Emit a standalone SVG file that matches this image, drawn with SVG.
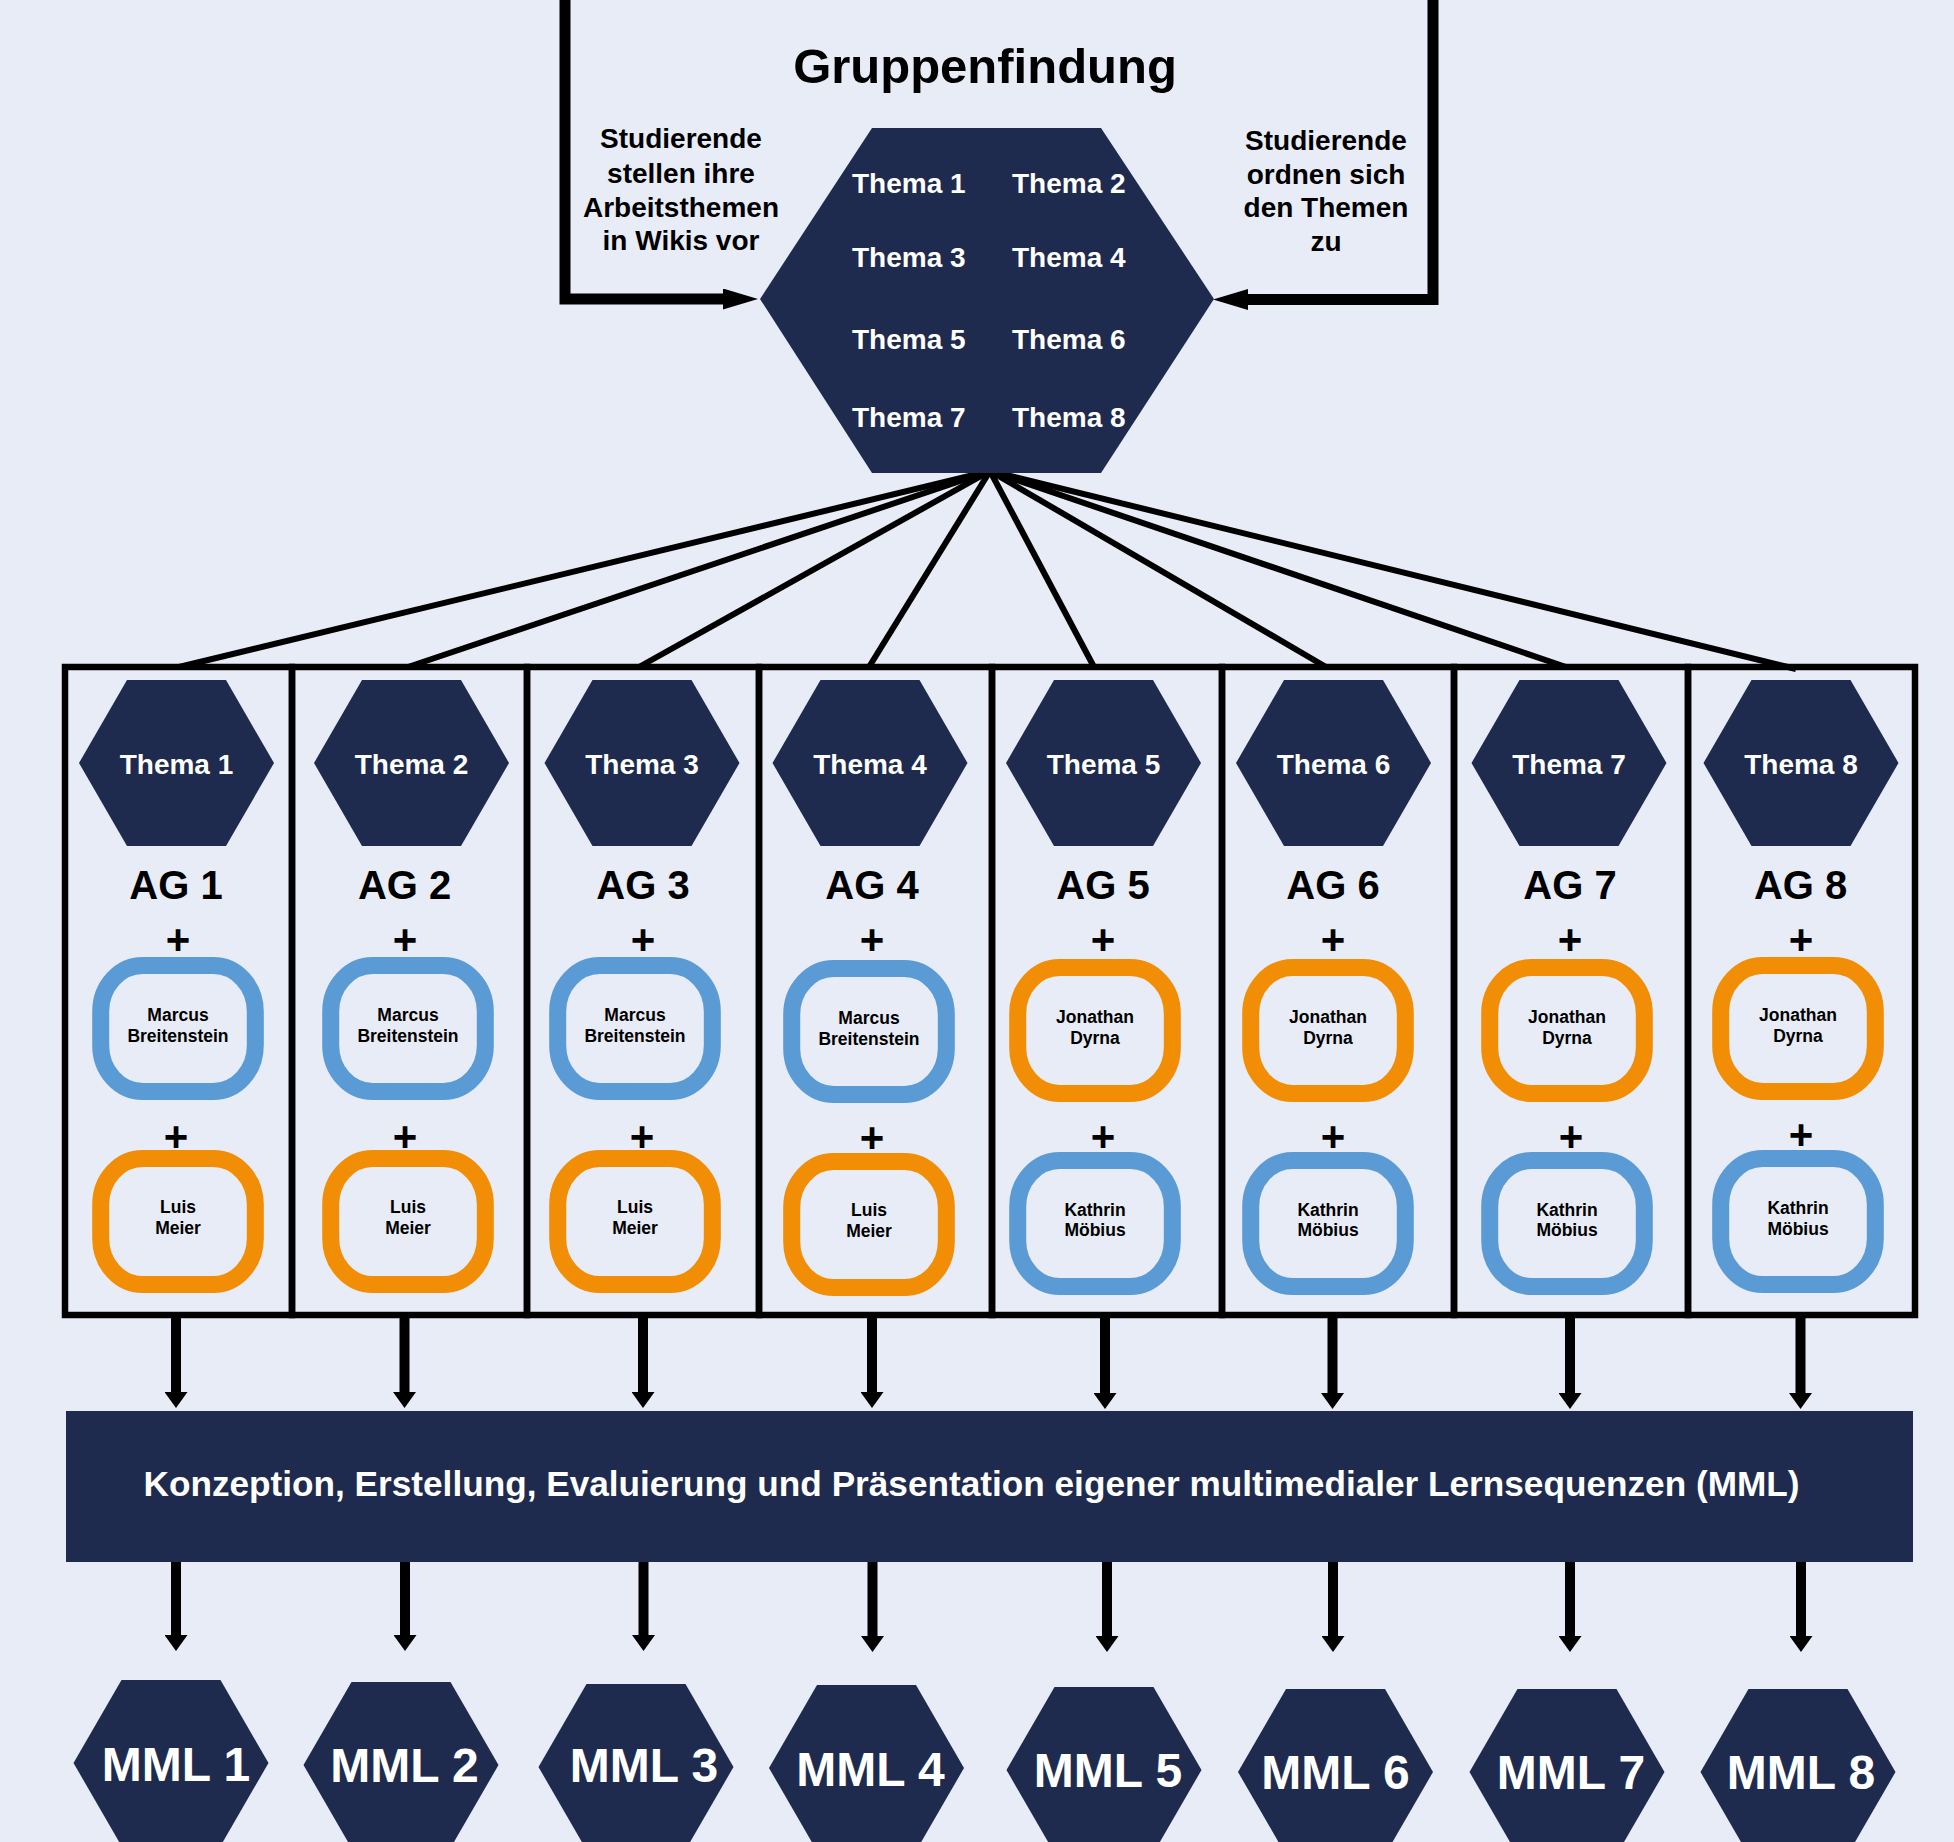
<svg xmlns="http://www.w3.org/2000/svg" xmlns:xlink="http://www.w3.org/1999/xlink" width="1954" height="1842" viewBox="0 0 1954 1842">
<style>
.navy{fill:#1E2B4F}
.f{font-family:"Liberation Sans",Arial,sans-serif;font-weight:bold}
.w{fill:#FFFFFF}
.k{fill:#000000}
.mid{text-anchor:middle}
.col{fill:none;stroke:#000;stroke-width:6.5}
.pb{fill:#E8ECF6;stroke:#5B9BD5;stroke-width:17}
.po{fill:#E8ECF6;stroke:#F18E06;stroke-width:17}
.thema{font-size:28px}
.ag{font-size:40px}
.plus{font-size:42px}
.nm{font-size:17.5px}
.mml{font-size:48px}
.side{font-size:28px}
.fan{stroke:#000;stroke-width:6;fill:none}
.dn{stroke:#000;stroke-width:10;fill:none;marker-end:url(#ad)}
.fr{stroke:#000;stroke-width:11;fill:none;marker-end:url(#ah)}
</style>
<defs>
<polygon id="hex" points="-49.5,-83 49.5,-83 97.5,0 49.5,83 -49.5,83 -97.5,0"/>
<marker id="ad" markerUnits="userSpaceOnUse" viewBox="0 0 16 23" markerWidth="16" markerHeight="23" refX="1" refY="11.5" orient="auto"><path d="M0,0 L16,11.5 L0,23 z" fill="#000"/></marker>
<marker id="ah" markerUnits="userSpaceOnUse" viewBox="0 0 35 21" markerWidth="35" markerHeight="21" refX="1" refY="10.5" orient="auto"><path d="M0,0 L35,10.5 L0,21 z" fill="#000"/></marker>
</defs>
<rect x="0" y="0" width="1954" height="1842" fill="#E8ECF6"/>

<g id="connectors">
<path class="fr" d="M565,-10 V299 H724"/>
<path class="fr" d="M1433,-10 V299.5 H1247"/>
<line class="fan" x1="990" y1="471" x2="179" y2="667"/>
<line class="fan" x1="990" y1="471" x2="408" y2="667"/>
<line class="fan" x1="990" y1="471" x2="639" y2="667"/>
<line class="fan" x1="990" y1="471" x2="869" y2="667"/>
<line class="fan" x1="990" y1="471" x2="1094" y2="667"/>
<line class="fan" x1="990" y1="471" x2="1326" y2="667"/>
<line class="fan" x1="990" y1="471" x2="1566" y2="667"/>
<line class="fan" x1="990" y1="471" x2="1796" y2="669"/>
<line class="dn" x1="176" y1="1318" x2="176" y2="1393"/>
<line class="dn" x1="404.5" y1="1318" x2="404.5" y2="1393"/>
<line class="dn" x1="643" y1="1318" x2="643" y2="1393"/>
<line class="dn" x1="872" y1="1318" x2="872" y2="1393"/>
<line class="dn" x1="1105" y1="1318" x2="1105" y2="1394"/>
<line class="dn" x1="1332.5" y1="1318" x2="1332.5" y2="1394"/>
<line class="dn" x1="1570" y1="1318" x2="1570" y2="1394"/>
<line class="dn" x1="1800.5" y1="1318" x2="1800.5" y2="1394"/>
<line class="dn" x1="176" y1="1560" x2="176" y2="1636"/>
<line class="dn" x1="405" y1="1560" x2="405" y2="1636"/>
<line class="dn" x1="643.5" y1="1560" x2="643.5" y2="1636"/>
<line class="dn" x1="872.5" y1="1560" x2="872.5" y2="1637"/>
<line class="dn" x1="1107" y1="1560" x2="1107" y2="1637"/>
<line class="dn" x1="1333" y1="1560" x2="1333" y2="1637"/>
<line class="dn" x1="1570" y1="1560" x2="1570" y2="1637"/>
<line class="dn" x1="1801" y1="1560" x2="1801" y2="1637"/>
</g>

<g id="gruppenfindung">
<text class="f k mid" x="985" y="83" font-size="49">Gruppenfindung</text>
<polygon class="navy" points="872,128 1101,128 1214,299 1101,473 872,473 760,299"/>
<g class="f w thema">
<text x="852" y="193">Thema 1</text><text x="1012" y="193">Thema 2</text>
<text x="852" y="267">Thema 3</text><text x="1012" y="267">Thema 4</text>
<text x="852" y="349">Thema 5</text><text x="1012" y="349">Thema 6</text>
<text x="852" y="427">Thema 7</text><text x="1012" y="427">Thema 8</text>
</g>
</g>

<g id="label-left" class="f k mid side">
<text x="681" y="148">Studierende</text>
<text x="681" y="183">stellen ihre</text>
<text x="681" y="217">Arbeitsthemen</text>
<text x="681" y="250">in Wikis vor</text>
</g>
<g id="label-right" class="f k mid side">
<text x="1326" y="150">Studierende</text>
<text x="1326" y="184">ordnen sich</text>
<text x="1326" y="217">den Themen</text>
<text x="1326" y="251">zu</text>
</g>

<g id="ag1">
<rect class="col" x="65" y="667" width="227" height="648"/>
<use href="#hex" x="176.5" y="763" class="navy"/>
<text class="f w mid thema" x="176.5" y="774">Thema 1</text>
<text class="f k mid ag" x="176" y="899">AG 1</text>
<text class="f k mid plus" x="178" y="954">+</text>
<rect class="pb" x="100.7" y="965.5" width="154.6" height="126" rx="42" ry="46"/>
<text class="f k mid nm" x="178" y="1021">Marcus</text><text class="f k mid nm" x="178" y="1041.5">Breitenstein</text>
<text class="f k mid plus" x="176" y="1151">+</text>
<rect class="po" x="100.7" y="1158.5" width="154.6" height="126" rx="42" ry="46"/>
<text class="f k mid nm" x="178" y="1213">Luis</text><text class="f k mid nm" x="178" y="1234">Meier</text>
</g>

<g id="ag2">
<rect class="col" x="292" y="667" width="235" height="648"/>
<use href="#hex" x="411.5" y="763" class="navy"/>
<text class="f w mid thema" x="411.5" y="774">Thema 2</text>
<text class="f k mid ag" x="404.6" y="899">AG 2</text>
<text class="f k mid plus" x="405" y="954">+</text>
<rect class="pb" x="330.7" y="965.5" width="154.6" height="126" rx="42" ry="46"/>
<text class="f k mid nm" x="408" y="1021">Marcus</text><text class="f k mid nm" x="408" y="1041.5">Breitenstein</text>
<text class="f k mid plus" x="405" y="1151">+</text>
<rect class="po" x="330.7" y="1158.5" width="154.6" height="126" rx="42" ry="46"/>
<text class="f k mid nm" x="408" y="1213">Luis</text><text class="f k mid nm" x="408" y="1234">Meier</text>
</g>

<g id="ag3">
<rect class="col" x="527" y="667" width="232" height="648"/>
<use href="#hex" x="642" y="763" class="navy"/>
<text class="f w mid thema" x="642" y="774">Thema 3</text>
<text class="f k mid ag" x="643" y="899">AG 3</text>
<text class="f k mid plus" x="643" y="954">+</text>
<rect class="pb" x="557.7" y="965.5" width="154.6" height="126" rx="42" ry="46"/>
<text class="f k mid nm" x="635" y="1021">Marcus</text><text class="f k mid nm" x="635" y="1041.5">Breitenstein</text>
<text class="f k mid plus" x="642" y="1151">+</text>
<rect class="po" x="557.7" y="1158.5" width="154.6" height="126" rx="42" ry="46"/>
<text class="f k mid nm" x="635" y="1213">Luis</text><text class="f k mid nm" x="635" y="1234">Meier</text>
</g>

<g id="ag4">
<rect class="col" x="759" y="667" width="233" height="648"/>
<use href="#hex" x="870" y="763" class="navy"/>
<text class="f w mid thema" x="870" y="774">Thema 4</text>
<text class="f k mid ag" x="872" y="899">AG 4</text>
<text class="f k mid plus" x="872" y="954">+</text>
<rect class="pb" x="791.7" y="968.5" width="154.6" height="126" rx="42" ry="46"/>
<text class="f k mid nm" x="869" y="1024">Marcus</text><text class="f k mid nm" x="869" y="1044.5">Breitenstein</text>
<text class="f k mid plus" x="872" y="1152">+</text>
<rect class="po" x="791.7" y="1161.5" width="154.6" height="126" rx="42" ry="46"/>
<text class="f k mid nm" x="869" y="1216">Luis</text><text class="f k mid nm" x="869" y="1237">Meier</text>
</g>

<g id="ag5">
<rect class="col" x="992" y="667" width="230" height="648"/>
<use href="#hex" x="1103.5" y="763" class="navy"/>
<text class="f w mid thema" x="1103.5" y="774">Thema 5</text>
<text class="f k mid ag" x="1103" y="899">AG 5</text>
<text class="f k mid plus" x="1103" y="954">+</text>
<rect class="po" x="1017.7" y="967.5" width="154.6" height="126" rx="42" ry="46"/>
<text class="f k mid nm" x="1095" y="1023">Jonathan</text><text class="f k mid nm" x="1095" y="1043.5">Dyrna</text>
<text class="f k mid plus" x="1103" y="1151">+</text>
<rect class="pb" x="1017.7" y="1160.5" width="154.6" height="126" rx="42" ry="46"/>
<text class="f k mid nm" x="1095" y="1215.5">Kathrin</text><text class="f k mid nm" x="1095" y="1236">Möbius</text>
</g>

<g id="ag6">
<rect class="col" x="1222" y="667" width="232" height="648"/>
<use href="#hex" x="1333.5" y="763" class="navy"/>
<text class="f w mid thema" x="1333.5" y="774">Thema 6</text>
<text class="f k mid ag" x="1333" y="899">AG 6</text>
<text class="f k mid plus" x="1333" y="954">+</text>
<rect class="po" x="1250.7" y="967.5" width="154.6" height="126" rx="42" ry="46"/>
<text class="f k mid nm" x="1328" y="1023">Jonathan</text><text class="f k mid nm" x="1328" y="1043.5">Dyrna</text>
<text class="f k mid plus" x="1333" y="1151">+</text>
<rect class="pb" x="1250.7" y="1160.5" width="154.6" height="126" rx="42" ry="46"/>
<text class="f k mid nm" x="1328" y="1215.5">Kathrin</text><text class="f k mid nm" x="1328" y="1236">Möbius</text>
</g>

<g id="ag7">
<rect class="col" x="1454" y="667" width="234" height="648"/>
<use href="#hex" x="1569" y="763" class="navy"/>
<text class="f w mid thema" x="1569" y="774">Thema 7</text>
<text class="f k mid ag" x="1570" y="899">AG 7</text>
<text class="f k mid plus" x="1570" y="954">+</text>
<rect class="po" x="1489.7" y="967.5" width="154.6" height="126" rx="42" ry="46"/>
<text class="f k mid nm" x="1567" y="1023">Jonathan</text><text class="f k mid nm" x="1567" y="1043.5">Dyrna</text>
<text class="f k mid plus" x="1571" y="1151">+</text>
<rect class="pb" x="1489.7" y="1160.5" width="154.6" height="126" rx="42" ry="46"/>
<text class="f k mid nm" x="1567" y="1215.5">Kathrin</text><text class="f k mid nm" x="1567" y="1236">Möbius</text>
</g>

<g id="ag8">
<rect class="col" x="1688" y="667" width="227" height="648"/>
<use href="#hex" x="1801" y="763" class="navy"/>
<text class="f w mid thema" x="1801" y="774">Thema 8</text>
<text class="f k mid ag" x="1800.6" y="899">AG 8</text>
<text class="f k mid plus" x="1801" y="954">+</text>
<rect class="po" x="1720.7" y="965.5" width="154.6" height="126" rx="42" ry="46"/>
<text class="f k mid nm" x="1798" y="1021">Jonathan</text><text class="f k mid nm" x="1798" y="1041.5">Dyrna</text>
<text class="f k mid plus" x="1801" y="1149">+</text>
<rect class="pb" x="1720.7" y="1158.5" width="154.6" height="126" rx="42" ry="46"/>
<text class="f k mid nm" x="1798" y="1214">Kathrin</text><text class="f k mid nm" x="1798" y="1234.5">Möbius</text>
</g>

<g id="mml-bar">
<rect class="navy" x="66" y="1411" width="1847" height="151"/>
<text class="f w mid" x="971.5" y="1496" font-size="35.2">Konzeption, Erstellung, Evaluierung und Präsentation eigener multimedialer Lernsequenzen (MML)</text>
</g>

<g id="mml1"><use href="#hex" x="171" y="1763" class="navy"/><text class="f w mid mml" x="176" y="1780.5">MML 1</text></g>
<g id="mml2"><use href="#hex" x="401" y="1765" class="navy"/><text class="f w mid mml" x="404.6" y="1782">MML 2</text></g>
<g id="mml3"><use href="#hex" x="636" y="1767" class="navy"/><text class="f w mid mml" x="644" y="1782">MML 3</text></g>
<g id="mml4"><use href="#hex" x="866.5" y="1768" class="navy"/><text class="f w mid mml" x="870.5" y="1786">MML 4</text></g>
<g id="mml5"><use href="#hex" x="1104" y="1770" class="navy"/><text class="f w mid mml" x="1108" y="1787">MML 5</text></g>
<g id="mml6"><use href="#hex" x="1335.5" y="1772" class="navy"/><text class="f w mid mml" x="1335.6" y="1789">MML 6</text></g>
<g id="mml7"><use href="#hex" x="1567" y="1772" class="navy"/><text class="f w mid mml" x="1571" y="1789">MML 7</text></g>
<g id="mml8"><use href="#hex" x="1798" y="1772" class="navy"/><text class="f w mid mml" x="1801" y="1789">MML 8</text></g>
</svg>
